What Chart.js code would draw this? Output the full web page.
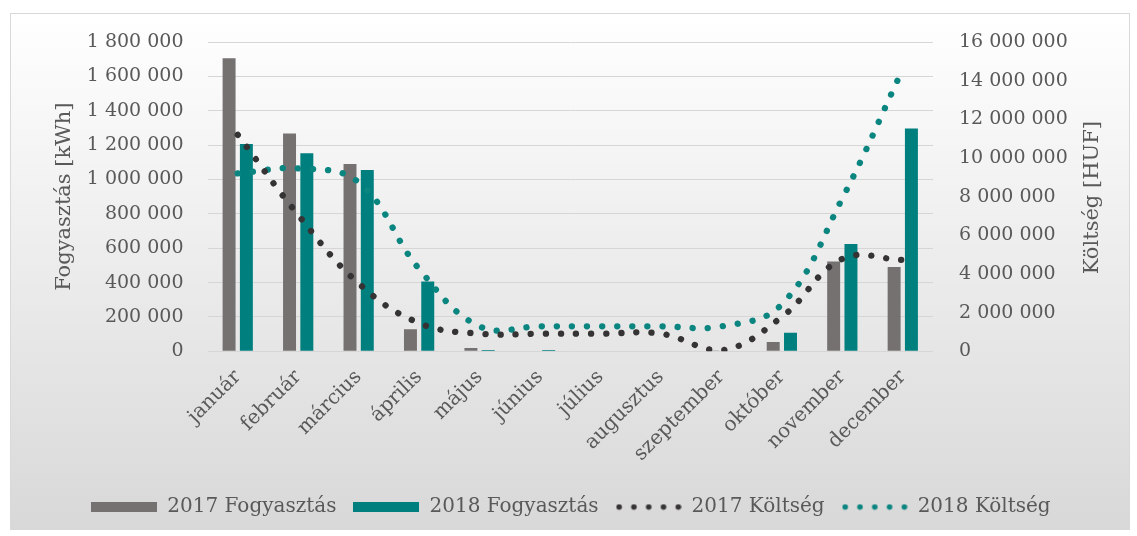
<!DOCTYPE html>
<html><head><meta charset="utf-8">
<script src="https://cdn.jsdelivr.net/npm/chart.js@4/dist/chart.umd.min.js"></script>
<style>html,body{margin:0;padding:0;background:#fff;}</style>
</head><body>
<canvas id="c" width="1137" height="536"></canvas>
<script>
const months = ['január','február','március','április','május','június','július','augusztus','szeptember','október','november','december'];
const cons2017 = [1705000, 1268000, 1090000, 128000, 19000, 0, 0, 0, 5000, 54000, 523000, 490000];
const cons2018 = [1206000, 1152000, 1055000, 406000, 8000, 8000, 0, 0, 0, 108000, 625000, 1297000];
const cost2017 = [11200000, 7050000, 3510000, 1460000, 910000, 910000, 910000, 910000, 50000, 1780000, 4780000, 4730000];
const cost2018 = [9200000, 9460000, 8740000, 4260000, 1290000, 1290000, 1290000, 1290000, 1290000, 2430000, 7910000, 14600000];
const leftTickLabels = ['0','200 000','400 000','600 000','800 000','1 000 000','1 200 000','1 400 000','1 600 000','1 800 000'];
const rightTickLabels = ['0','2 000 000','4 000 000','6 000 000','8 000 000','10 000 000','12 000 000','14 000 000','16 000 000'];
const seriesNames = ['2017 Fogyasztás','2018 Fogyasztás','2017 Költség','2018 Költség'];
const leftTitle = 'Fogyasztás [kWh]';
const rightTitle = 'Költség [HUF]';

const C_GRAY = '#767171', C_TEAL = '#007f7f', C_DARK = '#353333', C_TEAL2 = '#0b8580';
const FONT = "'DejaVu Serif', serif";
const TXT = '#595959';

function rectIcon(color){
  const c = document.createElement('canvas'); c.width = 66; c.height = 10;
  const x = c.getContext('2d'); x.fillStyle = color; x.fillRect(0,0,66,10); return c;
}
function dotIcon(color){
  const c = document.createElement('canvas'); c.width = 66; c.height = 7;
  const x = c.getContext('2d'); x.fillStyle = color;
  for (let i = 0; i < 5; i++){ x.beginPath(); x.arc(3.5 + i*14.8, 3.5, 2.8, 0, Math.PI*2); x.fill(); }
  return c;
}
const legendIcons = [rectIcon(C_GRAY), rectIcon(C_TEAL), dotIcon(C_DARK), dotIcon(C_TEAL2)];

const bgPlugin = {
  id: 'bg',
  beforeDraw(chart){
    const ctx = chart.ctx;
    ctx.save();
    ctx.fillStyle = '#ffffff'; ctx.fillRect(0,0,chart.width,chart.height);
    const g = ctx.createLinearGradient(0,13,0,530);
    g.addColorStop(0,'#ffffff'); g.addColorStop(1,'#d8d8d8');
    ctx.fillStyle = g; ctx.fillRect(10,13,1120,517);
    ctx.strokeStyle = '#d9d9d9'; ctx.lineWidth = 1; ctx.strokeRect(10.5,13.5,1119,516);
    ctx.restore();
  },
  afterDraw(chart){
    const ctx = chart.ctx; const a = chart.chartArea;
    ctx.save();
    ctx.translate(1093, (a.top + a.bottom)/2 + 1);
    ctx.rotate(-Math.PI/2);
    ctx.font = '21px ' + FONT; ctx.fillStyle = TXT;
    ctx.textAlign = 'center'; ctx.textBaseline = 'middle';
    ctx.fillText(rightTitle, 0, 0);
    ctx.restore();
  }
};

const lineCommon = {type:'line', yAxisID:'y1', pointRadius:0, pointHoverRadius:0, borderWidth:6.3, borderDash:[0.1,15], borderCapStyle:'round', tension:0.4, fill:false, order:0};
const barCommon = {type:'bar', yAxisID:'y', categoryPercentage:0.572, barPercentage:0.75, order:1};

new Chart(document.getElementById('c'), {
  data: {
    labels: months,
    datasets: [
      Object.assign({}, barCommon, {label: seriesNames[0], data: cons2017, backgroundColor: C_GRAY}),
      Object.assign({}, barCommon, {label: seriesNames[1], data: cons2018, backgroundColor: C_TEAL}),
      Object.assign({}, lineCommon, {label: seriesNames[2], data: cost2017, borderColor: C_DARK}),
      Object.assign({}, lineCommon, {label: seriesNames[3], data: cost2018, borderColor: C_TEAL2})
    ]
  },
  options: {
    responsive:false, animation:false, devicePixelRatio:1,
    layout:{padding:{left:40, right:35, top:42, bottom:9}},
    plugins:{
      tooltip:{enabled:false},
      legend:{position:'bottom', labels:{
        usePointStyle:true, pointStyleWidth:66, padding:17, color:TXT,
        font:{family:FONT, size:20},
        sort:(a,b)=>a.datasetIndex-b.datasetIndex,
        generateLabels:(chart)=>{
          const items = Chart.defaults.plugins.legend.labels.generateLabels(chart);
          items.forEach(it=>{ it.pointStyle = legendIcons[it.datasetIndex]; it.rotation = 0; });
          return items;
        }
      }}
    },
    scales:{
      x:{
        grid:{display:false}, border:{display:false},
        ticks:{color:TXT, font:{family:FONT, size:20}, minRotation:45, maxRotation:45, autoSkip:false, padding:6},
        afterFit:(s)=>{ s.height = 128.7; }
      },
      y:{
        position:'left', min:0, max:1800000,
        grid:{color:'#d6d6d6', drawTicks:false, lineWidth:1}, border:{display:false},
        ticks:{stepSize:200000, padding:24, color:TXT, font:{family:FONT, size:19}, callback:(v,i)=>leftTickLabels[i]},
        title:{display:true, text:leftTitle, color:TXT, font:{family:FONT, size:21}, padding:{top:12, bottom:0}},
        afterFit:(s)=>{ s.width = 167.5; }
      },
      y1:{
        position:'right', min:0, max:16000000,
        grid:{display:false, drawTicks:false}, border:{display:false},
        ticks:{stepSize:2000000, padding:26, color:TXT, font:{family:FONT, size:19}, callback:(v,i)=>rightTickLabels[i]},
        afterFit:(s)=>{ s.width = 169; }
      }
    }
  },
  plugins:[bgPlugin]
});
</script>
</body></html>
